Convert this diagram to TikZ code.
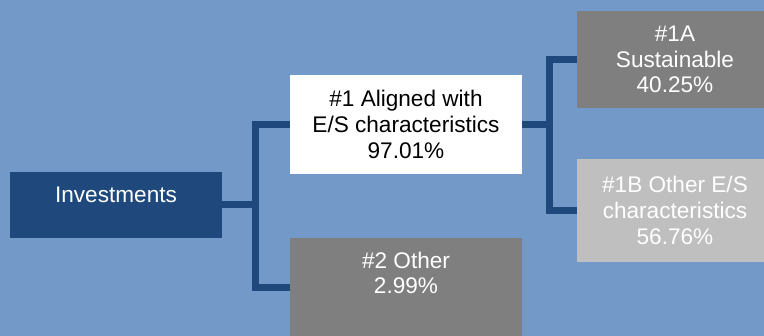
\documentclass[tikz,border=0pt]{standalone}
\usepackage{fontspec}
\setmainfont{Liberation Sans}
\definecolor{bgblue}{RGB}{114,153,199}
\definecolor{navy}{RGB}{31,73,125}
\definecolor{midgray}{RGB}{127,127,127}
\definecolor{lightgray}{RGB}{191,191,191}
\begin{document}
\begin{tikzpicture}[x=1pt,y=-1pt,
  box/.style={rectangle, inner sep=0pt, align=center, font=\fontsize{22.6}{25.6}\selectfont},
  link/.style={draw=navy, line width=7pt, line join=miter}]
\useasboundingbox (0,0) rectangle (764,336);
\clip (0,0) rectangle (764,336);
\fill[bgblue] (0,0) rectangle (764,336);
% boxes
\node[box, fill=navy, minimum width=212pt, minimum height=66pt] (inv) at (116,205) {};
\node[box, text=white] (invtext) at (116,195) {Investments};
\node[box, fill=white, text=black, minimum width=232pt, minimum height=99pt] (al) at (406,124.5)
  {\#1 Aligned with\\E/S characteristics\\97.01\%};
\node[box, fill=midgray, minimum width=232pt, minimum height=100pt] (oth) at (406,288) {};
\node[box, text=white] (othtext) at (406,273) {\#2 Other\\2.99\%};
\node[box, fill=midgray, text=white, minimum width=196pt, minimum height=97pt] (sus) at (675,59.5)
  {\#1A\\Sustainable\\40.25\%};
\node[box, fill=lightgray, text=white, minimum width=196pt, minimum height=103pt] (oes) at (675,210.5)
  {\#1B Other E/S\\characteristics\\56.76\%};
% connectors
\coordinate (j1) at (255.5,205);
\coordinate (j2) at (549,124.5);
\draw[link] (inv.east) -- (j1);
\draw[link] (al.west) -| (j1) |- (oth.west);
\draw[link] (al.east) -- (j2);
\draw[link] (sus.west) -| (j2) |- (oes.west);
\end{tikzpicture}
\end{document}
